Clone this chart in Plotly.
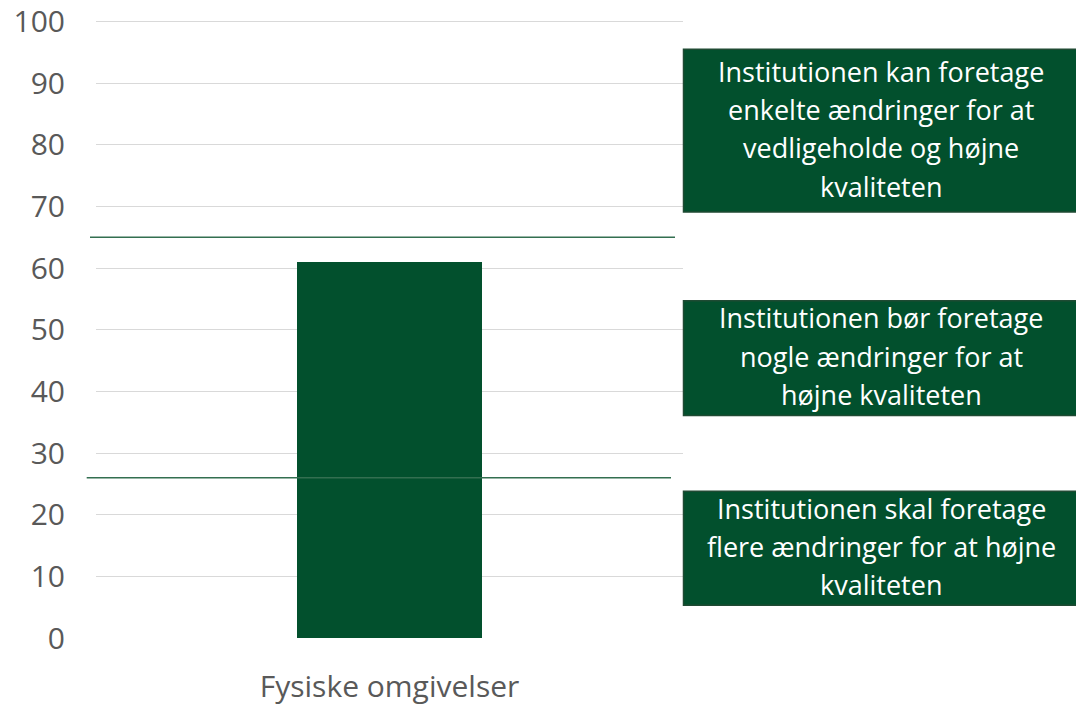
import plotly.graph_objects as go

categories = ["Fysiske omgivelser"]
values = [61]
thresholds = [65, 26]
y_ticks = [0, 10, 20, 30, 40, 50, 60, 70, 80, 90, 100]
box_texts = [
    ["Institutionen kan foretage", "enkelte ændringer for at", "vedligeholde og højne", "kvaliteten"],
    ["Institutionen bør foretage", "nogle ændringer for at", "højne kvaliteten"],
    ["Institutionen skal foretage", "flere ændringer for at højne", "kvaliteten"],
]
# box extents in data units (y)
box_ranges = [(95.5, 69.1), (54.7, 36.1), (23.8, 5.3)]

GREEN = "#02502D"
L, R, T, B = 96, 393, 20, 66.5
W, H = 1076, 705
pw = W - L - R

fig = go.Figure()
fig.add_trace(go.Bar(x=categories, y=values, width=0.315, marker=dict(color=GREEN, line=dict(width=0)),
                     hoverinfo="skip"))

shapes = []
# threshold lines
line_ext = [(-6, -8), (-9.3, -12)]
for t, (a, b) in zip(thresholds, line_ext):
    shapes.append(dict(type="line", xref="paper", yref="y", x0=a / pw, x1=1 + b / pw, y0=t, y1=t,
                       line=dict(color="#336F50", width=1.5)))

annotations = []
bx0 = 1 + 0.5 / pw
bx1 = 1 + (W - L - pw + 4) / pw
for lines, (ytop, ybot) in zip(box_texts, box_ranges):
    shapes.append(dict(type="rect", xref="paper", yref="y", x0=bx0, x1=bx1, y0=ybot, y1=ytop,
                       fillcolor=GREEN, line=dict(color="#1F4A33", width=1.5), layer="above"))
    ymid = (ytop + ybot) / 2
    n = len(lines)
    for i, txt in enumerate(lines):
        annotations.append(dict(text=txt, xref="paper", yref="y", x=1 + (881 - L - pw) / pw, y=ymid,
                                yshift=((n - 1) / 2 - i) * 38.3 + 2, showarrow=False,
                                xanchor="center", yanchor="middle",
                                font=dict(family="Open Sans", size=27, color="white")))

fig.update_layout(
    width=W, height=H,
    margin=dict(l=L, r=R, t=T, b=B, pad=0, autoexpand=False),
    plot_bgcolor="white", paper_bgcolor="white",
    showlegend=False,
    shapes=shapes, annotations=annotations,
    font=dict(family="Open Sans", color="#595959"),
    bargap=0,
)
fig.update_yaxes(range=[0, 100.25], tickvals=y_ticks, showgrid=True, gridcolor="#D9D9D9", gridwidth=1.3,
                 zeroline=False, showline=False, ticks="", tickfont=dict(size=30, color="#595959"),
                 ticklabelstandoff=30, fixedrange=True, automargin=False)
fig.update_xaxes(range=[-0.5, 0.5], showgrid=False, zeroline=False, showline=False, ticks="",
                 tickfont=dict(size=30, color="#595959"), ticklabelstandoff=28, fixedrange=True,
                 automargin=False)

fig.write_html("out.html", config={"displayModeBar": False},
               post_script="document.body.style.margin='0';document.body.style.overflow='hidden';")
